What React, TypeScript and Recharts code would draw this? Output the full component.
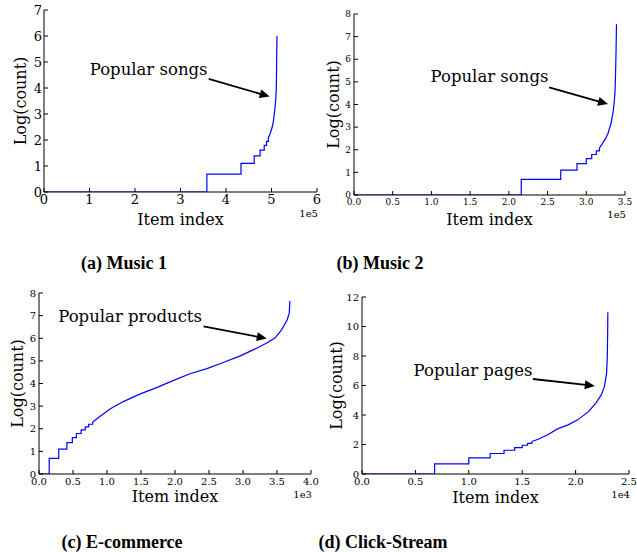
import React from 'react';
import { LineChart, Line, XAxis, YAxis, ReferenceLine, ReferenceDot, Label } from 'recharts';

const SERIF = '"DejaVu Serif", serif';
const BLUE = '#0000ff';

// ---------- (a) Music 1 : item index in units of 1e5 ----------
const aStepX = [0, 3.58, 4.33, 4.62, 4.75, 4.84, 4.89, 4.93];
const aStepY = [0, 0.69, 1.1, 1.39, 1.61, 1.79, 1.95, 2.08];
const aCurveX = [4.93, 4.97, 5.01, 5.04, 5.06, 5.08, 5.095, 5.105, 5.11, 5.115, 5.12];
const aCurveY = [2.08, 2.25, 2.46, 2.7, 2.97, 3.3, 3.6, 4.0, 4.5, 5.3, 6.0];
const aXTicks = [0, 1, 2, 3, 4, 5, 6];
const aYTicks = [0, 1, 2, 3, 4, 5, 6, 7];

// ---------- (b) Music 2 : units of 1e5 ----------
const bStepX = [0, 2.16, 2.67, 2.88, 3.0, 3.07, 3.13, 3.17];
const bStepY = [0, 0.69, 1.1, 1.39, 1.61, 1.79, 1.95, 2.08];
const bCurveX = [3.17, 3.21, 3.25, 3.28, 3.3, 3.32, 3.335, 3.35, 3.36, 3.37, 3.375, 3.38, 3.385, 3.39];
const bCurveY = [2.08, 2.28, 2.5, 2.72, 2.95, 3.17, 3.45, 3.76, 4.1, 4.49, 5.0, 5.67, 6.5, 7.55];
const bXTicks = [0, 0.5, 1, 1.5, 2, 2.5, 3, 3.5];
const bYTicks = [0, 1, 2, 3, 4, 5, 6, 7, 8];

// ---------- (c) E-commerce : units of 1e3 ----------
const cStepX = [0, 0.15, 0.29, 0.41, 0.49, 0.55, 0.62, 0.68, 0.73, 0.79];
const cStepY = [0, 0.69, 1.1, 1.39, 1.61, 1.79, 1.95, 2.08, 2.2, 2.3];
const cCurveX = [0.79, 0.9, 1.05, 1.24, 1.49, 1.73, 1.98, 2.22, 2.47, 2.71, 2.96, 3.2, 3.35, 3.47, 3.57, 3.65, 3.68, 3.69];
const cCurveY = [2.3, 2.55, 2.88, 3.2, 3.54, 3.82, 4.14, 4.43, 4.66, 4.93, 5.22, 5.56, 5.79, 6.01, 6.38, 6.82, 7.11, 7.65];
const cXTicks = [0, 0.5, 1, 1.5, 2, 2.5, 3, 3.5, 4];
const cYTicks = [0, 1, 2, 3, 4, 5, 6, 7, 8];

// ---------- (d) Click-Stream : units of 1e4 ----------
const dStepX = [0, 0.68, 1.0, 1.2, 1.33, 1.43, 1.5, 1.55, 1.59];
const dStepY = [0, 0.69, 1.1, 1.39, 1.61, 1.79, 1.95, 2.08, 2.2];
const dCurveX = [1.59, 1.65, 1.74, 1.83, 1.93, 2.02, 2.12, 2.19, 2.24, 2.27, 2.29, 2.297, 2.3, 2.302];
const dCurveY = [2.2, 2.36, 2.66, 3.06, 3.33, 3.67, 4.23, 4.8, 5.36, 5.92, 6.82, 8.0, 9.5, 10.97];
const dXTicks = [0, 0.5, 1, 1.5, 2, 2.5];
const dYTicks = [0, 2, 4, 6, 8, 10, 12];

const captions = ['(a) Music 1', '(b) Music 2', '(c) E-commerce', '(d) Click-Stream'];
const notes = ['Popular songs', 'Popular songs', 'Popular products', 'Popular pages'];
const offsets = ['1e5', '1e5', '1e3', '1e4'];
const xLabel = 'Item index';
const yLabel = 'Log(count)';

const zip = (xs: number[], ys: number[]) => xs.map((x, i) => ({ x, y: ys[i] }));

type Cfg = {
  left: number; top: number; width: number; height: number;
  mTop: number; mRight: number; yAxisWidth: number; xAxisHeight: number;
  xDomain: [number, number]; xTicks: number[]; xDec: number;
  yDomain: [number, number]; yTicks: number[];
  tickFont: number; xTickMargin: number; yTickMargin: number;
  stepX: number[]; stepY: number[]; curveX: number[]; curveY: number[];
  note: string; notePos: [number, number]; arrowFrom: [number, number]; arrowTo: [number, number];
  offset: string; labelBase: number; offsetBase: number; yLabelX: number;
};

const panels: Cfg[] = [
  {
    left: 0, top: 0, width: 325, height: 232, mTop: 10, mRight: 8, yAxisWidth: 44, xAxisHeight: 40,
    xDomain: [0, 6], xTicks: aXTicks, xDec: 0, yDomain: [0, 7], yTicks: aYTicks,
    tickFont: 13, xTickMargin: 7, yTickMargin: 6,
    stepX: aStepX, stepY: aStepY, curveX: aCurveX, curveY: aCurveY,
    note: notes[0], notePos: [2.3, 4.72], arrowFrom: [3.62, 4.35], arrowTo: [4.96, 3.67],
    offset: offsets[0], labelBase: 33, offsetBase: 25, yLabelX: 20,
  },
  {
    left: 318, top: 0, width: 319, height: 232, mTop: 14, mRight: 12, yAxisWidth: 36, xAxisHeight: 37,
    xDomain: [0, 3.5], xTicks: bXTicks, xDec: 1, yDomain: [0, 8], yTicks: bYTicks,
    tickFont: 9, xTickMargin: 8, yTickMargin: 7,
    stepX: bStepX, stepY: bStepY, curveX: bCurveX, curveY: bCurveY,
    note: notes[1], notePos: [1.75, 5.23], arrowFrom: [2.52, 4.76], arrowTo: [3.28, 4.02],
    offset: offsets[1], labelBase: 30, offsetBase: 23, yLabelX: 15,
  },
  {
    left: 0, top: 280, width: 320, height: 230, mTop: 13, mRight: 9, yAxisWidth: 39, xAxisHeight: 36,
    xDomain: [0, 4], xTicks: cXTicks, xDec: 1, yDomain: [0, 8], yTicks: cYTicks,
    tickFont: 10, xTickMargin: 8, yTickMargin: 7,
    stepX: cStepX, stepY: cStepY, curveX: cCurveX, curveY: cCurveY,
    note: notes[2], notePos: [1.34, 6.97], arrowFrom: [2.42, 6.52], arrowTo: [3.35, 5.99],
    offset: offsets[2], labelBase: 28, offsetBase: 24, yLabelX: 17,
  },
  {
    left: 318, top: 280, width: 319, height: 230, mTop: 17, mRight: 8, yAxisWidth: 44, xAxisHeight: 36,
    xDomain: [0, 2.5], xTicks: dXTicks, xDec: 1, yDomain: [0, 12], yTicks: dYTicks,
    tickFont: 10, xTickMargin: 8, yTickMargin: 7,
    stepX: dStepX, stepY: dStepY, curveX: dCurveX, curveY: dCurveY,
    note: notes[3], notePos: [1.04, 7.05], arrowFrom: [1.6, 6.44], arrowTo: [2.18, 5.97],
    offset: offsets[3], labelBase: 29, offsetBase: 24, yLabelX: 18,
  },
];

const captionPos = [
  { cx: 124, cy: 263 },
  { cx: 380, cy: 263 },
  { cx: 122, cy: 542 },
  { cx: 383, cy: 542 },
];

const arrowShape = (p: any) => {
  const { x1, y1, x2, y2 } = p;
  const dx = x2 - x1;
  const dy = y2 - y1;
  const len = Math.hypot(dx, dy) || 1;
  const ux = dx / len;
  const uy = dy / len;
  const hl = 10;
  const hw = 4.5;
  const bx = x2 - ux * hl;
  const by = y2 - uy * hl;
  return (
    <g>
      <line x1={x1} y1={y1} x2={bx + ux * 1} y2={by + uy * 1} stroke="#000" strokeWidth={1.8} />
      <polygon
        points={`${x2},${y2} ${bx - uy * hw},${by + ux * hw} ${bx + uy * hw},${by - ux * hw}`}
        fill="#000"
      />
    </g>
  );
};

function Panel({ c }: { c: Cfg }) {
  const axisStroke = '#000';
  const tickStyle = { fontSize: c.tickFont, fontFamily: SERIF, fill: '#000' };
  const fmtX = (v: number) => v.toFixed(c.xDec);
  return (
    <div style={{ position: 'absolute', left: c.left, top: c.top }}>
      <LineChart
        width={c.width}
        height={c.height}
        margin={{ top: c.mTop, right: c.mRight, left: 0, bottom: 0 }}
      >
        <XAxis
          type="number"
          dataKey="x"
          domain={c.xDomain}
          ticks={c.xTicks}
          allowDataOverflow
          height={c.xAxisHeight}
          tickSize={-4}
          tickMargin={c.xTickMargin}
          tick={tickStyle}
          tickFormatter={fmtX}
          stroke={axisStroke}
          interval={0}
        >
          <Label
            content={(props: any) => {
              const vb = props.viewBox;
              return (
                <g>
                  <text
                    x={vb.x + vb.width / 2}
                    y={vb.y + c.labelBase}
                    textAnchor="middle"
                    fontFamily={SERIF}
                    fontSize={16}
                    fill="#000"
                  >
                    {xLabel}
                  </text>
                  <text
                    x={vb.x + vb.width + 1}
                    y={vb.y + c.offsetBase}
                    textAnchor="end"
                    fontFamily={SERIF}
                    fontSize={10}
                    fill="#000"
                  >
                    {c.offset}
                  </text>
                </g>
              );
            }}
          />
        </XAxis>
        <XAxis
          xAxisId="top"
          orientation="top"
          type="number"
          dataKey="x"
          domain={c.xDomain}
          ticks={c.xTicks}
          height={0}
          tickSize={-4}
          tickFormatter={() => ''}
          stroke={axisStroke}
          interval={0}
        />
        <YAxis
          type="number"
          domain={c.yDomain}
          ticks={c.yTicks}
          allowDataOverflow
          width={c.yAxisWidth}
          tickSize={-4}
          tickMargin={c.yTickMargin}
          tick={tickStyle}
          stroke={axisStroke}
          interval={0}
        >
          <Label
            content={(props: any) => {
              const vb = props.viewBox;
              const cx = vb.x + c.yLabelX;
              const cy = vb.y + vb.height / 2;
              return (
                <text
                  x={cx}
                  y={cy}
                  transform={`rotate(-90, ${cx}, ${cy})`}
                  textAnchor="middle"
                  dominantBaseline="central"
                  fontFamily={SERIF}
                  fontSize={16}
                  fill="#000"
                >
                  {yLabel}
                </text>
              );
            }}
          />
        </YAxis>
        <YAxis
          yAxisId="right"
          orientation="right"
          type="number"
          domain={c.yDomain}
          ticks={c.yTicks}
          width={0}
          tickSize={-4}
          tickFormatter={() => ''}
          stroke={axisStroke}
          interval={0}
        />
        <Line
          data={zip(c.stepX, c.stepY)}
          dataKey="y"
          type="stepAfter"
          stroke={BLUE}
          strokeWidth={1.2}
          dot={false}
          isAnimationActive={false}
        />
        <Line
          data={zip(c.curveX, c.curveY)}
          dataKey="y"
          type="linear"
          stroke={BLUE}
          strokeWidth={1.2}
          dot={false}
          isAnimationActive={false}
        />
        <ReferenceLine
          segment={[
            { x: c.arrowFrom[0], y: c.arrowFrom[1] },
            { x: c.arrowTo[0], y: c.arrowTo[1] },
          ]}
          shape={arrowShape}
        />
        <ReferenceDot
          x={c.notePos[0]}
          y={c.notePos[1]}
          r={0}
          shape={(p: any) => (
            <text
              x={p.cx}
              y={p.cy}
              textAnchor="middle"
              dominantBaseline="central"
              fontFamily={SERIF}
              fontSize={16.5}
              fill="#000"
            >
              {c.note}
            </text>
          )}
        />
      </LineChart>
    </div>
  );
}

export default function App() {
  return (
    <div
      style={{
        position: 'absolute',
        left: 0,
        top: 0,
        width: 637,
        height: 552,
        background: '#fff',
        overflow: 'hidden',
      }}
    >
      {panels.map((p, i) => (
        <Panel key={i} c={p} />
      ))}
      {captions.map((t, i) => (
        <div
          key={t}
          style={{
            position: 'absolute',
            left: captionPos[i].cx - 120,
            width: 240,
            top: captionPos[i].cy - 10,
            height: 20,
            lineHeight: '20px',
            textAlign: 'center',
            fontFamily: '"Liberation Serif", serif',
            fontWeight: 'bold',
            fontSize: 18,
            color: '#000',
          }}
        >
          {t}
        </div>
      ))}
    </div>
  );
}
